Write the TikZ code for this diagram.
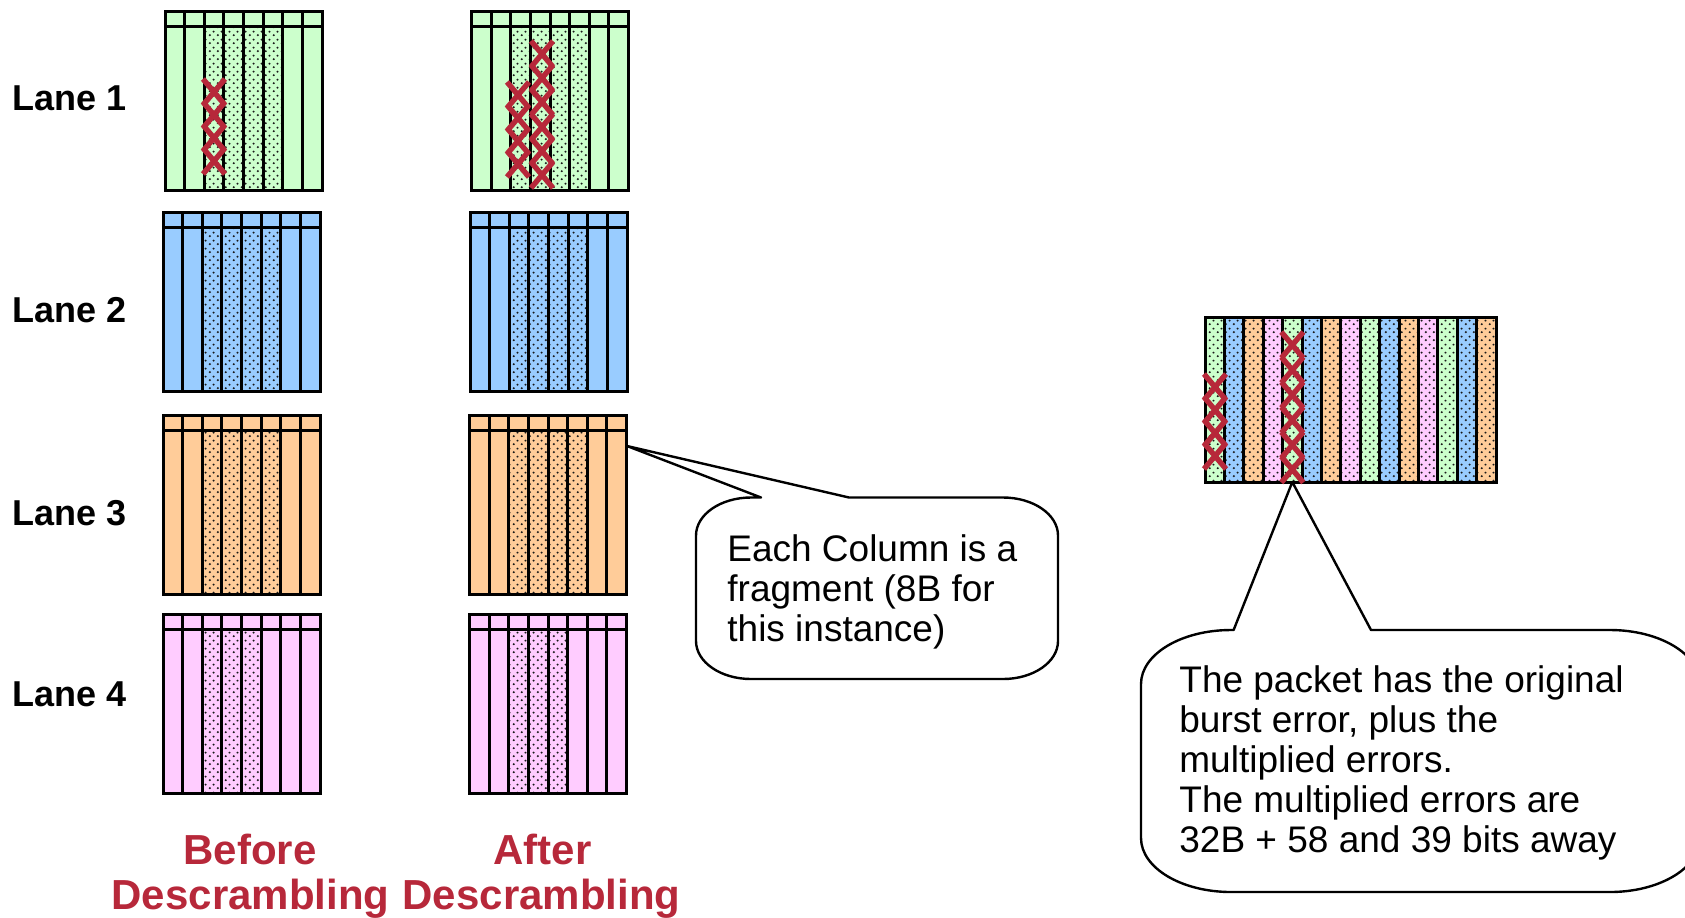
\documentclass[tikz,border=0pt]{standalone}
\usepackage{fontspec}
\setmainfont{Liberation Sans}
\usetikzlibrary{patterns}
\definecolor{lgreen}{RGB}{204,255,204}
\definecolor{lblue}{RGB}{153,204,255}
\definecolor{lorange}{RGB}{255,204,153}
\definecolor{lpink}{RGB}{255,204,255}
\definecolor{errred}{RGB}{183,40,58}
\pgfdeclarepatternformonly{sdots}{\pgfpointorigin}{\pgfqpoint{4pt}{4pt}}{\pgfqpoint{4pt}{4pt}}{%
  \pgfpathcircle{\pgfqpoint{1pt}{1pt}}{0.62pt}%
  \pgfpathcircle{\pgfqpoint{3pt}{3pt}}{0.62pt}%
  \pgfusepath{fill}}
\tikzset{
  gridline/.style={line width=1.5pt, draw=black},
  lanebox/.style={draw, line width=1.5pt, rectangle, inner sep=0pt, outer sep=0pt,
    minimum width=78.5pt, minimum height=89.5pt, anchor=north west},
  dotfill/.style={pattern=sdots, pattern color=black!90},
  xmark/.style={draw=errred, line width=2.7pt},
  lanelabel/.style={font=\fontsize{18}{20}\selectfont\bfseries, anchor=base west, inner sep=0pt},
  phase/.style={font=\fontsize{21}{22}\selectfont\bfseries, text=errred, anchor=base, inner sep=0pt},
  note/.style={font=\fontsize{18.5}{20}\selectfont, anchor=base west, inner sep=0pt},
  callout/.style={draw, fill=white, line width=1.2pt, line join=round},
}
% name, x, y, colour, number of dotted columns
\newcommand\lanebox[5]{%
  \node[lanebox, fill=#4] (#1) at (#2,#3) {};
  \pgfmathtruncatemacro\lastdot{2+#5}%
  \foreach \i in {3,...,\lastdot}{
    \fill[dotfill] ({#2+(\i-1)*19.625},{#3+15}) rectangle ({#2+\i*19.625},{#3+179});
  }
  \foreach \i in {1,...,7}{
    \draw[gridline] ({#2+\i*19.625},#3) -- ({#2+\i*19.625},{#3+179});
  }
  \draw[gridline] (#2,{#3+15}) -- ({#2+157},{#3+15});
  \draw[gridline] (#1.north west) rectangle (#1.south east);
}
\newcommand\xmk[2]{%
  \draw[xmark] ({#1-11},{#2-13}) -- ({#1+11},{#2+13})
               ({#1-11},{#2+13}) -- ({#1+11},{#2-13});}
\begin{document}
\begin{tikzpicture}[x=0.5pt,y=-0.5pt]
\useasboundingbox (0,0) rectangle (1685,917);
\clip (0,0) rectangle (1685,917);

% lane labels
\node[lanelabel] (lab1) at (12,110) {Lane 1};
\node[lanelabel] (lab2) at (12,322.5) {Lane 2};
\node[lanelabel] (lab3) at (12,525.5) {Lane 3};
\node[lanelabel] (lab4) at (12,706) {Lane 4};

% before descrambling
\lanebox{L1b}{165}{11}{lgreen}{4}
\lanebox{L2b}{163}{212.5}{lblue}{4}
\lanebox{L3b}{163}{415}{lorange}{4}
\lanebox{L4b}{163}{614}{lpink}{3}
% after descrambling
\lanebox{L1a}{471.5}{11}{lgreen}{4}
\lanebox{L2a}{470}{212.5}{lblue}{4}
\lanebox{L3a}{469.5}{415}{lorange}{4}
\lanebox{L4a}{469.5}{614}{lpink}{3}

% errors
\foreach \y in {92,115,138,161}{\xmk{214}{\y}}
\foreach \y in {95,118,141,164}{\xmk{518}{\y}}
\foreach \y in {54,78,102,127,151,175}{\xmk{542}{\y}}

% phase labels
\node[phase] (bef1) at (250,864) {Before};
\node[phase] (bef2) at (250.5,909) {Descrambling};
\node[phase] (aft1) at (542.5,864) {After};
\node[phase] (aft2) at (541.5,909) {Descrambling};

% callout 1
\coordinate (tip1) at (627,446);
\draw[callout] (761,497.5) -- (tip1) -- (849,497.5) -- (1003,497.5)
  .. controls (1033.4,497.5) and (1058,514.5) .. (1058,535.5) -- (1058,641)
  .. controls (1058,662) and (1033.4,679) .. (1003,679) -- (751,679)
  .. controls (720.6,679) and (696,662) .. (696,641) -- (696,535.5)
  .. controls (696,514.5) and (720.6,497.5) .. (751,497.5) -- cycle;
\node[note] (c1a) at (727,561) {Each Column is a};
\node[note] (c1b) at (727,601) {fragment (8B for};
\node[note] (c1c) at (727,641) {this instance)};

% callout 2
\coordinate (tip2) at (1292.3,482);
\draw[callout] (1233.6,630) -- (tip2) -- (1371,630) -- (1610,630)
  .. controls (1659.7,630) and (1700,654.2) .. (1700,684) -- (1700,838)
  .. controls (1700,867.8) and (1659.7,892) .. (1610,892) -- (1231,892)
  .. controls (1181.3,892) and (1141,867.8) .. (1141,838) -- (1141,684)
  .. controls (1141,654.2) and (1181.3,630) .. (1231,630) -- cycle;
\node[note] (c2a) at (1179,692) {The packet has the original};
\node[note] (c2b) at (1179,732) {burst error, plus the};
\node[note] (c2c) at (1179,772) {multiplied errors.};
\node[note] (c2d) at (1179,812) {The multiplied errors are};
\node[note] (c2e) at (1179,852) {32B + 58 and 39 bits away};

% reassembled packet
\node[lanebox, minimum width=145.5pt, minimum height=82.5pt] (pkt) at (1205,317) {};
\foreach \i/\c in {0/lgreen,1/lblue,2/lorange,3/lpink,4/lgreen,5/lblue,6/lorange,7/lpink,
                   8/lgreen,9/lblue,10/lorange,11/lpink,12/lgreen,13/lblue,14/lorange}{
  \fill[\c] ({1205+\i*19.4},317) rectangle ({1205+(\i+1)*19.4},482);
  \fill[dotfill] ({1205+\i*19.4},317) rectangle ({1205+(\i+1)*19.4},482);
}
\foreach \i in {1,...,14}{
  \draw[gridline] ({1205+\i*19.4},317) -- ({1205+\i*19.4},482);
}
\draw[gridline] (pkt.north west) rectangle (pkt.south east);
\foreach \y in {387,410,433,456}{\xmk{1215}{\y}}
\foreach \y in {345,370,395,420,445,469.5}{\xmk{1292.3}{\y}}
\end{tikzpicture}
\end{document}
